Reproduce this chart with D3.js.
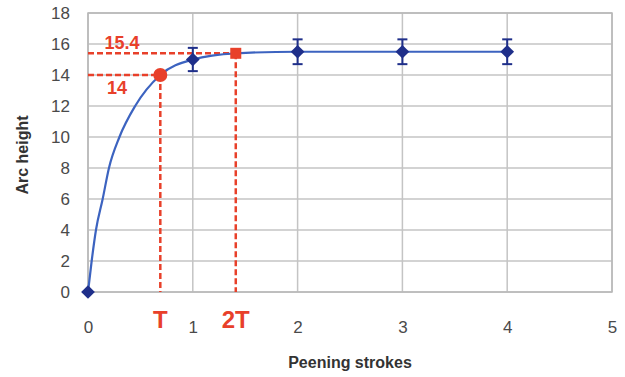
<!DOCTYPE html>
<html lang="en">
<head>
  <meta charset="UTF-8">
  <title>Arc height vs peening strokes</title>
  <script src="https://d3js.org/d3.v7.min.js"></script>
  <style>
    body { margin: 0; background: #fff; }
    .tick text { font: 17px "Liberation Sans", Arial, sans-serif; fill: #4a4a4a; }
    .axis-title { font: bold 16px "Liberation Sans", Arial, sans-serif; fill: #333; }
    .red-label { font-family: "Liberation Sans", Arial, sans-serif; font-weight: bold; fill: #e8402a; }
  </style>
</head>
<body>
  <svg width="625" height="377"></svg>

  <script>
    // measured points (with error bars)
    const strokes = [0, 1, 2, 3, 4];
    const arcHeight = [0, 15.0, 15.5, 15.5, 15.5];
    const errBar = [0, 0.75, 0.8, 0.8, 0.8];

    // saturation curve
    const curveX = [0, 0.035, 0.076, 0.14, 0.2, 0.3, 0.45, 0.69, 1, 1.41, 2, 3, 4];
    const curveY = [0, 2, 4, 6, 8, 10, 12, 14, 15.0, 15.4, 15.5, 15.5, 15.5];

    // T and 2T markers
    const markX = [0.69, 1.41];
    const markY = [14, 15.4];
    const markText = ["T", "2T"];
    const levelText = ["14", "15.4"];

    const xTicks = [0, 1, 2, 3, 4, 5];
    const yTicks = [0, 2, 4, 6, 8, 10, 12, 14, 16, 18];

    const svg = d3.select("svg");
    const pLeft = 88, pTop = 13, pRight = 612, pBottom = 292;

    const x = d3.scaleLinear().domain([0, 5]).range([pLeft, pRight]);
    const y = d3.scaleLinear().domain([0, 18]).range([pBottom, pTop]);

    // grid
    const grid = svg.append("g");
    grid.selectAll(".hg").data(yTicks).enter().append("line")
        .attr("x1", pLeft).attr("x2", pRight)
        .attr("y1", d => y(d)).attr("y2", d => y(d))
        .attr("stroke", "#c4c4c4").attr("stroke-width", 1.5);
    grid.selectAll(".vg").data(xTicks).enter().append("line")
        .attr("x1", d => x(d)).attr("x2", d => x(d))
        .attr("y1", pTop).attr("y2", pBottom)
        .attr("stroke", "#c4c4c4").attr("stroke-width", 1.5);
    svg.append("rect")
       .attr("x", pLeft).attr("y", pTop)
       .attr("width", pRight - pLeft).attr("height", pBottom - pTop)
       .attr("fill", "none").attr("stroke", "#b8b8b8").attr("stroke-width", 1.5);

    // axes (labels only)
    svg.append("g")
       .attr("transform", `translate(${pLeft - 15},0)`)
       .call(d3.axisLeft(y).tickValues(yTicks).tickSize(0).tickFormat(d3.format("d")))
       .call(g => g.select(".domain").remove());
    svg.append("g")
       .attr("transform", `translate(0,${pBottom + 26})`)
       .call(d3.axisBottom(x).tickValues(xTicks).tickSize(0).tickFormat(d3.format("d")))
       .call(g => g.select(".domain").remove());

    svg.append("text").attr("class", "axis-title")
       .attr("x", 350).attr("y", 368).attr("text-anchor", "middle")
       .text("Peening strokes");
    svg.append("text").attr("class", "axis-title")
       .attr("transform", "translate(28,155) rotate(-90)")
       .attr("text-anchor", "middle")
       .text("Arc height");

    // red guide lines
    const red = "#e8402a";
    const guides = svg.append("g")
        .attr("stroke", red).attr("stroke-width", 2.5)
        .attr("stroke-dasharray", "6,3").attr("fill", "none");
    markX.forEach((mx, i) => {
      guides.append("line")
            .attr("x1", pLeft).attr("x2", x(mx))
            .attr("y1", y(markY[i])).attr("y2", y(markY[i]));
      guides.append("line")
            .attr("x1", x(mx)).attr("x2", x(mx))
            .attr("y1", y(markY[i])).attr("y2", pBottom);
    });

    // fitted curve
    const curvePts = curveX.map((d, i) => [d, curveY[i]]);
    svg.append("path")
       .datum(curvePts)
       .attr("fill", "none")
       .attr("stroke", "#3c63c0")
       .attr("stroke-width", 2.2)
       .attr("d", d3.line().x(d => x(d[0])).y(d => y(d[1])).curve(d3.curveMonotoneX));

    // error bars
    const navy = "#1f2f8a";
    const eb = svg.append("g").attr("stroke", navy).attr("stroke-width", 2);
    strokes.forEach((s, i) => {
      if (!errBar[i]) return;
      const cx = x(s);
      eb.append("line").attr("x1", cx).attr("x2", cx)
        .attr("y1", y(arcHeight[i] + errBar[i])).attr("y2", y(arcHeight[i] - errBar[i]));
      [1, -1].forEach(sg => {
        eb.append("line").attr("x1", cx - 5).attr("x2", cx + 5)
          .attr("y1", y(arcHeight[i] + sg * errBar[i])).attr("y2", y(arcHeight[i] + sg * errBar[i]));
      });
    });

    // diamonds
    svg.selectAll(".pt").data(strokes).enter().append("path")
       .attr("transform", (d, i) => `translate(${x(d)},${y(arcHeight[i])})`)
       .attr("d", d3.symbol().type(d3.symbolDiamond2).size(120))
       .attr("fill", navy);

    // T / 2T markers
    svg.append("circle")
       .attr("cx", x(markX[0])).attr("cy", y(markY[0])).attr("r", 7)
       .attr("fill", red);
    svg.append("rect")
       .attr("x", x(markX[1]) - 5.5).attr("y", y(markY[1]) - 5.5)
       .attr("width", 11).attr("height", 11)
       .attr("fill", red);

    markX.forEach((mx, i) => {
      svg.append("text").attr("class", "red-label")
         .attr("x", x(mx)).attr("y", 328)
         .attr("text-anchor", "middle").attr("font-size", 24)
         .text(markText[i]);
    });
    svg.append("text").attr("class", "red-label")
       .attr("x", 117).attr("y", 94).attr("text-anchor", "middle")
       .attr("font-size", 18).text(levelText[0]);
    svg.append("text").attr("class", "red-label")
       .attr("x", 122).attr("y", 49).attr("text-anchor", "middle")
       .attr("font-size", 18).text(levelText[1]);
  </script>
</body>
</html>
